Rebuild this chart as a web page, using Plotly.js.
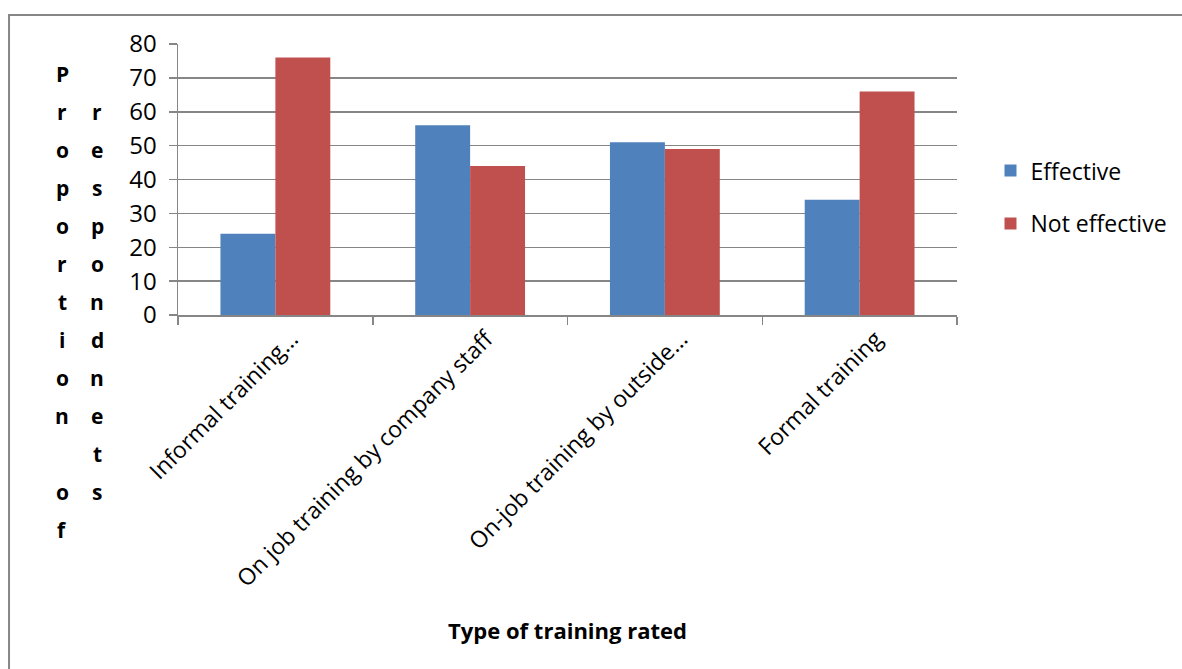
<!DOCTYPE html>
<html>
<head>
<meta charset="utf-8">
<script src="https://cdn.plot.ly/plotly-3.0.1.min.js"></script>
<style>
  html, body { margin: 0; padding: 0; background: #ffffff; }
  #chart { width: 1182px; height: 669px; }
</style>
</head>
<body>
<div id="chart"></div>
<script>
// Training types and how respondents rated them
const categories = [
  "Informal training...",
  "On job training by company staff",
  "On-job training by outside...",
  "Formal training"
];
const effective = [24, 56, 51, 34];
const notEffective = [76, 44, 49, 66];
const yTicks = [0, 10, 20, 30, 40, 50, 60, 70, 80];

// Vertical y-axis caption, one letter per row, in two columns
const captionLeft = "Proportion of";
const captionRight = "respondnets";

const FONT = "'Open Sans', 'Noto Sans', sans-serif";
const GRID = "#868686";

const traces = [
  {
    type: "bar",
    name: "Effective",
    x: categories,
    y: effective,
    marker: { color: "#4F81BD" },
    legendgroup: "a"
  },
  {
    type: "bar",
    name: "Not effective",
    x: categories,
    y: notEffective,
    marker: { color: "#C0504D" },
    legendgroup: "b"
  }
];

// Letter annotations for the y caption
const annotations = [];
const rowStep = 38;
const firstRowOffset = 30; // below the top of the plot area
function addColumn(text, startRow, xShift) {
  Array.from(text).forEach((ch, i) => {
    if (ch === " ") return;
    annotations.push({
      text: "<b>" + ch + "</b>",
      xref: "paper", yref: "paper",
      x: 0, y: 1,
      xanchor: "center", yanchor: "middle",
      xshift: xShift,
      yshift: -(firstRowOffset + (startRow + i) * rowStep),
      showarrow: false,
      font: { family: FONT, size: 21, color: "#000000" }
    });
  });
}
addColumn(captionLeft, 0, -116);
addColumn(captionRight, 1, -81);

const layout = {
  width: 1182,
  height: 669,
  margin: { l: 178, r: 225, t: 44, b: 354, pad: 0, autoexpand: false },
  paper_bgcolor: "#ffffff",
  plot_bgcolor: "#ffffff",
  font: { family: FONT, color: "#000000" },
  barmode: "group",
  bargap: 0.436,
  bargroupgap: 0,
  xaxis: {
    type: "category",
    showline: true,
    linecolor: GRID,
    linewidth: 1.5,
    ticks: "outside",
    tickson: "boundaries",
    ticklen: 8,
    tickcolor: GRID,
    tickwidth: 1.5,
    tickangle: -45,
    ticklabelshift: 16,
    tickfont: { family: FONT, size: 23, color: "#000000" },
    showgrid: false,
    automargin: false,
    title: {
      text: "<b>Type of training rated</b>",
      font: { family: FONT, size: 22, color: "#000000" },
      standoff: 31
    }
  },
  yaxis: {
    range: [0, 80],
    tickvals: yTicks,
    showline: true,
    linecolor: GRID,
    linewidth: 1.5,
    ticks: "outside",
    ticklen: 8,
    tickcolor: GRID,
    tickwidth: 1.5,
    ticklabelstandoff: 7,
    tickfont: { family: FONT, size: 24, color: "#000000" },
    showgrid: true,
    gridcolor: GRID,
    gridwidth: 1.5,
    zeroline: false,
    automargin: false,
    fixedrange: true
  },
  showlegend: true,
  legend: {
    x: 1.043,
    y: 0.435,
    xanchor: "left",
    yanchor: "middle",
    traceorder: "grouped",
    tracegroupgap: 20,
    bgcolor: "rgba(0,0,0,0)",
    font: { family: FONT, size: 23, color: "#000000" },
    itemwidth: 30
  },
  shapes: [
    {
      type: "rect",
      xref: "paper", yref: "paper",
      x0: -0.2169, x1: 1.5,
      y0: -2, y1: 1.107,
      line: { color: GRID, width: 2 },
      fillcolor: "rgba(0,0,0,0)",
      layer: "below"
    }
  ],
  annotations: annotations
};

Plotly.newPlot("chart", traces, layout, { displayModeBar: false, staticPlot: true });
</script>
</body>
</html>
